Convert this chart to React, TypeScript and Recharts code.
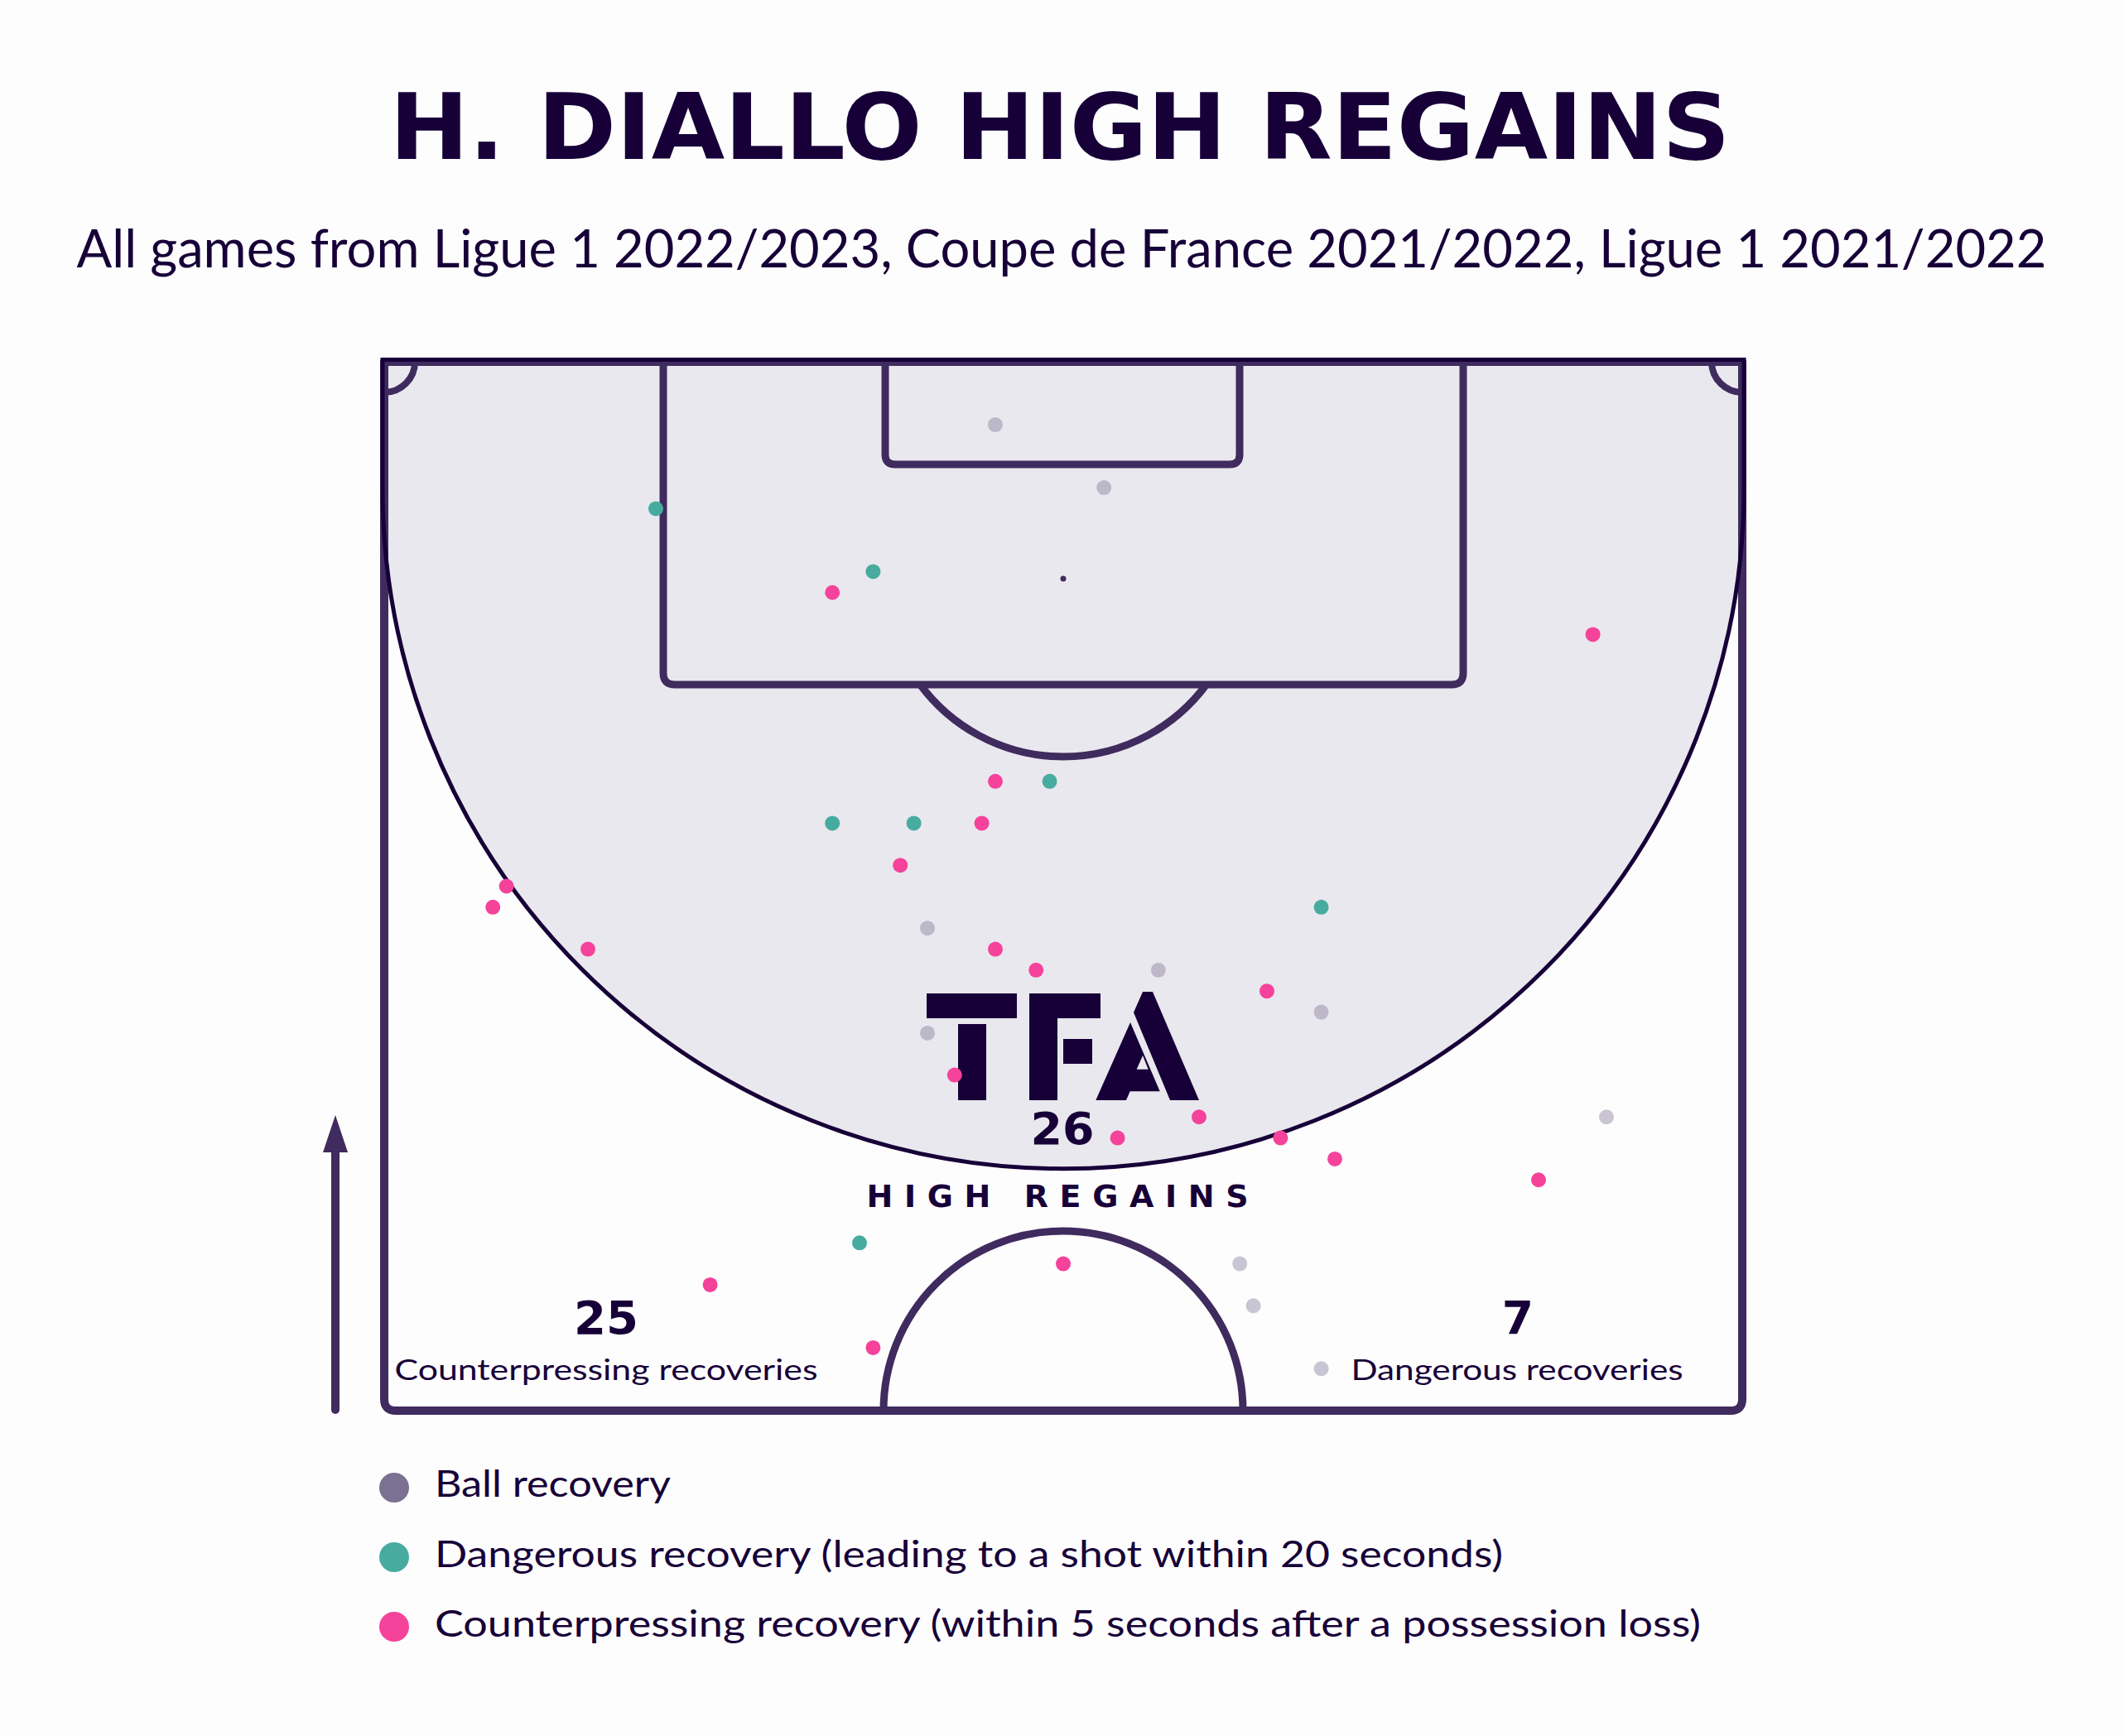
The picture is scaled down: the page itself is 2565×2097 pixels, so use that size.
import { ScatterChart, Scatter, XAxis, YAxis } from "recharts";

// Wyscout-style coordinates: x = across the pitch (0-100), y = along the pitch (50-100, 100 = goal line)
const ballRecoveries: Array<[number, number]> = [
  [45, 97], [53, 94], [40, 73], [57, 71], [69, 69],
  [40, 68], [90, 64], [63, 57], [64, 55], [69, 52],
];
const dangerousRecoveries: Array<[number, number]> = [
  [20, 93], [36, 90], [49, 80], [33, 78], [39, 78], [69, 74], [35, 58],
];
const counterpressRecoveries: Array<[number, number]> = [
  [33, 89], [89, 87], [45, 80], [44, 78], [38, 76], [9, 75], [8, 74],
  [15, 72], [45, 72], [48, 71], [65, 70], [42, 66], [60, 64], [54, 63],
  [66, 63], [70, 62], [85, 61], [50, 57], [24, 56], [36, 53],
];

const legendLabels = [
  "Ball recovery",
  "Dangerous recovery (leading to a shot within 20 seconds)",
  "Counterpressing recovery (within 5 seconds after a possession loss)",
];
const statValues = ["26", "25", "7"];
const statLabels = ["HIGH REGAINS", "Counterpressing recoveries", "Dangerous recoveries"];

const W = 2565;
const H = 2097;
const L = 464;
const T = 437;
const R = 2104;
const B = 1704;
const CX = (L + R) / 2;

const INK = "#170038";
const LINE = "#3f2b5e";
const ZONE = "#e9e8ee";
const GREY = "#7b7191";
const TEAL = "#47ab9f";
const PINK = "#f5429a";

const toPoints = (arr: Array<[number, number]>) => arr.map(([x, y]) => ({ x, y }));

const dot = (color: string, opacity = 1) => (props: any) => (
  <circle cx={props.cx} cy={props.cy} r={9} fill={color} fillOpacity={opacity} />
);

function Pitch() {
  const penY = 827;
  const spotY = 699;
  const arcR = 215;
  const dx = Math.sqrt(arcR * arcR - (penY - spotY) ** 2);
  // high regain zone: circle tangent to both touchlines
  const zoneCy = 590;
  const zoneR = 822;
  const zl = CX - zoneR;
  const zr = CX + zoneR;
  const zoneArc = `A ${zoneR} ${zoneR} 0 0 1 ${zl} ${zoneCy}`;
  const rb = 14;
  return (
    <svg width={W} height={H} style={{ position: "absolute", left: 0, top: 0 }}>
      <rect width={W} height={H} fill="#fdfdfd" />
      <path d={`M ${zl} ${T - 2.5} L ${zr} ${T - 2.5} L ${zr} ${zoneCy} ${zoneArc} Z`} fill={ZONE} />
      <g fill="none" stroke={LINE} strokeWidth={9} strokeLinejoin="round">
        <path d={`M ${L} ${T} L ${R} ${T} L ${R} ${B - rb} Q ${R} ${B} ${R - rb} ${B} L ${L + rb} ${B} Q ${L} ${B} ${L} ${B - rb} Z`} strokeWidth={10} />
        <path d={`M 801 ${T} L 801 ${penY - rb} Q 801 ${penY} ${801 + rb} ${penY} L ${1767 - rb} ${penY} Q 1767 ${penY} 1767 ${penY - rb} L 1767 ${T}`} />
        <path d={`M 1069 ${T} L 1069 ${561 - 12} Q 1069 561 1081 561 L 1485 561 Q 1497 561 1497 549 L 1497 ${T}`} />
        <path d={`M ${CX - dx} ${penY} A ${arcR} ${arcR} 0 0 0 ${CX + dx} ${penY}`} />
        <path d={`M ${CX - 217} ${B} A 217 217 0 0 1 ${CX + 217} ${B}`} />
        <path d={`M ${L + 37} ${T} A 37 37 0 0 1 ${L} ${T + 37}`} strokeWidth={8} />
        <path d={`M ${R - 37} ${T} A 37 37 0 0 0 ${R} ${T + 37}`} strokeWidth={8} />
      </g>
      <circle cx={CX} cy={spotY} r={3.5} fill={LINE} />
      <path
        d={`M ${zl} ${zoneCy} L ${zl} ${T - 2.5} L ${zr} ${T - 2.5} L ${zr} ${zoneCy} ${zoneArc}`}
        fill="none"
        stroke={INK}
        strokeWidth={5}
      />
      {/* direction arrow */}
      <line x1={405} y1={1703} x2={405} y2={1390} stroke={LINE} strokeWidth={10} strokeLinecap="round" />
      <polygon points="390,1392 420,1392 405,1347" fill={LINE} />

      {/* TFA logo */}
      <g fill={INK}>
        <rect x={1119} y={1200} width={109} height={30} />
        <rect x={1157} y={1237} width={34} height={92} />
        <polygon points="1243,1200 1329,1200 1329,1230 1277,1230 1277,1329 1243,1329" />
        <rect x={1284} y={1255} width={35} height={30} />
        <polygon points="1369,1223 1380,1198 1392,1198 1448,1329 1413,1329" />
        <path
          fillRule="evenodd"
          d="M 1365 1235 L 1400.7 1318.3 L 1364.7 1318.3 L 1360 1329 L 1323.3 1329 Z M 1372.7 1291.7 L 1386.7 1291.7 L 1380 1275 Z"
        />
      </g>

      <g fill={INK}>
        <text x={1280} y={192} fontFamily="DejaVu Sans" fontWeight={700} fontSize={110} textAnchor="middle" textLength={1619} lengthAdjust="spacingAndGlyphs">
          H. DIALLO HIGH REGAINS
        </text>
        <text x={1282} y={323} fontFamily="Lato" fontSize={64} textAnchor="middle" textLength={2379} lengthAdjust="spacingAndGlyphs">
          All games from Ligue 1 2022/2023, Coupe de France 2021/2022, Ligue 1 2021/2022
        </text>
        <text x={1283} y={1382} fontFamily="DejaVu Sans" fontWeight={700} fontSize={54} textAnchor="middle" textLength={77} lengthAdjust="spacingAndGlyphs">
          {statValues[0]}
        </text>
        <text x={1277} y={1458} fontFamily="DejaVu Sans" fontWeight={700} fontSize={38} textAnchor="middle" textLength={461} lengthAdjust="spacing">
          {statLabels[0]}
        </text>
        <text x={732} y={1611} fontFamily="DejaVu Sans" fontWeight={700} fontSize={55} textAnchor="middle" textLength={78} lengthAdjust="spacingAndGlyphs">
          {statValues[1]}
        </text>
        <text x={732} y={1667} fontFamily="Lato" fontSize={35} textAnchor="middle" textLength={511} lengthAdjust="spacingAndGlyphs">
          {statLabels[1]}
        </text>
        <text x={1833} y={1611} fontFamily="DejaVu Sans" fontWeight={700} fontSize={55} textAnchor="middle">
          {statValues[2]}
        </text>
        <text x={1832} y={1667} fontFamily="Lato" fontSize={35} textAnchor="middle" textLength={401} lengthAdjust="spacingAndGlyphs">
          {statLabels[2]}
        </text>
      </g>

      {/* legend */}
      {[GREY, TEAL, PINK].map((c, i) => (
        <g key={i}>
          <circle cx={476} cy={1797 + i * 84} r={18} fill={c} />
          <text
            x={525}
            y={1808 + i * 84.5}
            fontFamily="Lato"
            fontSize={44}
            fill={INK}
            textLength={[285, 1290, 1529][i]}
            lengthAdjust="spacingAndGlyphs"
          >
            {legendLabels[i]}
          </text>
        </g>
      ))}
    </svg>
  );
}

export default function App() {
  return (
    <div style={{ position: "absolute", left: 0, top: 0, width: W, height: H, background: "#fdfdfd" }}>
      <Pitch />
      <div style={{ position: "absolute", left: 0, top: 0 }}>
        <ScatterChart width={W} height={H} margin={{ top: T, right: W - R, bottom: H - B, left: L }}>
          <XAxis type="number" dataKey="x" domain={[0, 100]} hide allowDataOverflow />
          <YAxis type="number" dataKey="y" domain={[50, 100]} hide allowDataOverflow />
          <Scatter
            name="Ball recovery"
            data={toPoints(ballRecoveries)}
            fill={GREY}
            shape={dot(GREY, 0.4)}
            isAnimationActive={false}
          />
          <Scatter
            name="Dangerous recovery"
            data={toPoints(dangerousRecoveries)}
            fill={TEAL}
            shape={dot(TEAL)}
            isAnimationActive={false}
          />
          <Scatter
            name="Counterpressing recovery"
            data={toPoints(counterpressRecoveries)}
            fill={PINK}
            shape={dot(PINK)}
            isAnimationActive={false}
          />
        </ScatterChart>
      </div>
    </div>
  );
}
